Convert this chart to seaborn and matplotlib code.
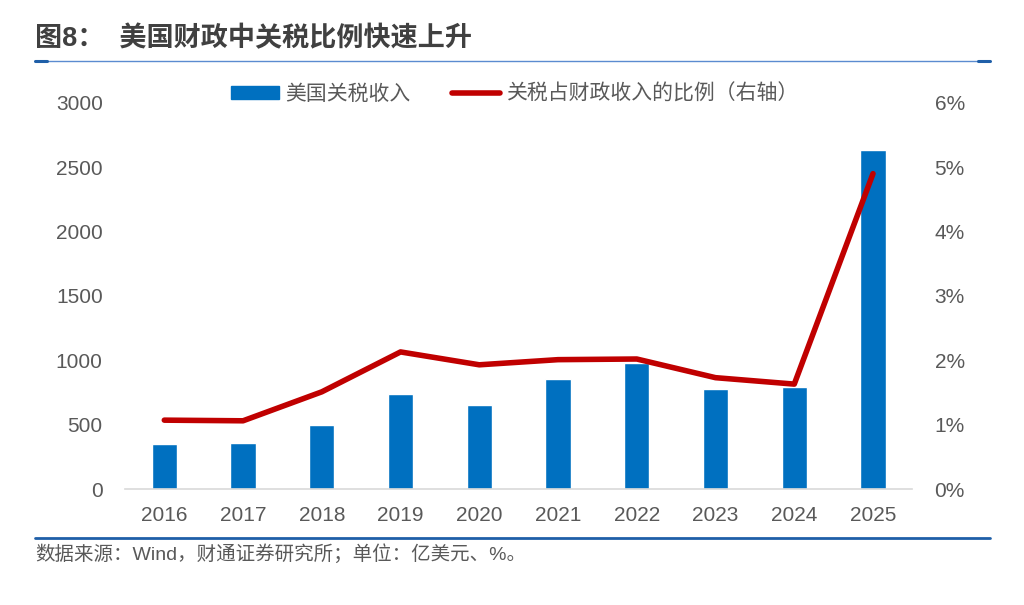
import numpy as np
import pandas as pd
import matplotlib
matplotlib.use("Agg")
import matplotlib.pyplot as plt
import seaborn as sns
from matplotlib.lines import Line2D
from matplotlib.patches import Patch

# 数据
years = ["2016", "2017", "2018", "2019", "2020", "2021", "2022", "2023", "2024", "2025"]
tariff = [350, 357, 497, 738, 653, 855, 979, 777, 793, 2634]        # 亿美元
share = [1.07, 1.06, 1.51, 2.13, 1.93, 2.01, 2.02, 1.73, 1.63, 4.90]  # %

left_ticks = [0, 500, 1000, 1500, 2000, 2500, 3000]
right_ticks = [0, 1, 2, 3, 4, 5, 6]

sns.set_theme(style="white")
plt.rcParams['font.family'] = ['Liberation Sans', 'Noto Sans CJK SC', 'DejaVu Sans']
plt.rcParams['axes.unicode_minus'] = False

df = pd.DataFrame({"year": years, "tariff": tariff, "share": share})
df["pos"] = np.arange(len(df))

blue = "#0070C0"
red = "#C00000"
grey = "#595959"

fig = plt.figure(figsize=(10.24, 6.05), dpi=100)
ax = fig.add_axes([0.122, 0.1917, 0.769, 0.6383])

sns.barplot(data=df, x="pos", y="tariff", color=blue, width=0.32,
            saturation=1, ax=ax, native_scale=False)
ax.set_xlim(-0.5, len(years) - 0.5)
ax.set_ylim(0, 3000)
ax.set_yticks(left_ticks)
ax.set_yticklabels([str(t) for t in left_ticks])
ax.set_xticks(range(len(years)))
ax.set_xticklabels(years)
ax.set_xlabel("")
ax.set_ylabel("")

ax2 = ax.twinx()
sns.lineplot(data=df, x="pos", y="share", color=red, linewidth=4.0, ax=ax2,
             legend=False)
ax2.set_ylim(0, 6)
ax2.set_yticks(right_ticks)
ax2.set_yticklabels([f"{t}%" for t in right_ticks])
ax2.set_ylabel("")
ax2.set_xlabel("")
ax2.set_xlim(-0.5, len(years) - 0.5)

for a in (ax, ax2):
    for s in ["top", "left", "right", "bottom"]:
        a.spines[s].set_visible(False)
ax.spines["bottom"].set_visible(True)
ax.spines["bottom"].set_color("#D9D9D9")
ax.spines["bottom"].set_linewidth(1.2)

ax.tick_params(axis="x", which="major", length=0, pad=12, labelsize=15, labelcolor=grey)
ax.set_xticks(np.arange(-0.5, len(years), 1), minor=True)
ax.tick_params(axis="x", which="minor", length=8, width=1.2, color="#D9D9D9", direction="out")
ax.tick_params(axis="y", length=0, pad=16, labelsize=15, labelcolor=grey)
ax2.tick_params(axis="y", length=0, pad=16, labelsize=15, labelcolor=grey)
ax.grid(False)
ax2.grid(False)

# 图例
handles = [Patch(facecolor=blue, edgecolor=blue, label="美国关税收入"),
           Line2D([0], [0], color=red, linewidth=4.0, label="关税占财政收入的比例（右轴）")]
fig.legend(handles=handles, loc="center", bbox_to_anchor=(0.503, 0.845), ncol=2,
           frameon=False, fontsize=15, labelcolor=grey, handlelength=2.3,
           handleheight=0.6, columnspacing=2.0, handletextpad=0.3)

# 标题与分隔线
fig.text(0.034, 0.935, "图8：  美国财政中关税比例快速上升", fontsize=19.5, fontweight="bold",
         color="#404040", va="center", ha="left")
fig.add_artist(Line2D([0.034, 0.967], [0.9, 0.9], color="#5B8BD0", linewidth=1.0))
fig.add_artist(Line2D([0.034, 0.046], [0.9, 0.9], color="#1F5FA8", linewidth=2.2))
fig.add_artist(Line2D([0.955, 0.967], [0.9, 0.9], color="#1F5FA8", linewidth=2.2))
fig.add_artist(Line2D([0.034, 0.967], [0.111, 0.111], color="#1F5FA8", linewidth=2.0))
fig.text(0.034, 0.084, "数据来源：Wind，财通证券研究所；单位：亿美元、%。", fontsize=14,
         color=grey, va="center", ha="left")

fig.savefig("out.png", dpi=100)
